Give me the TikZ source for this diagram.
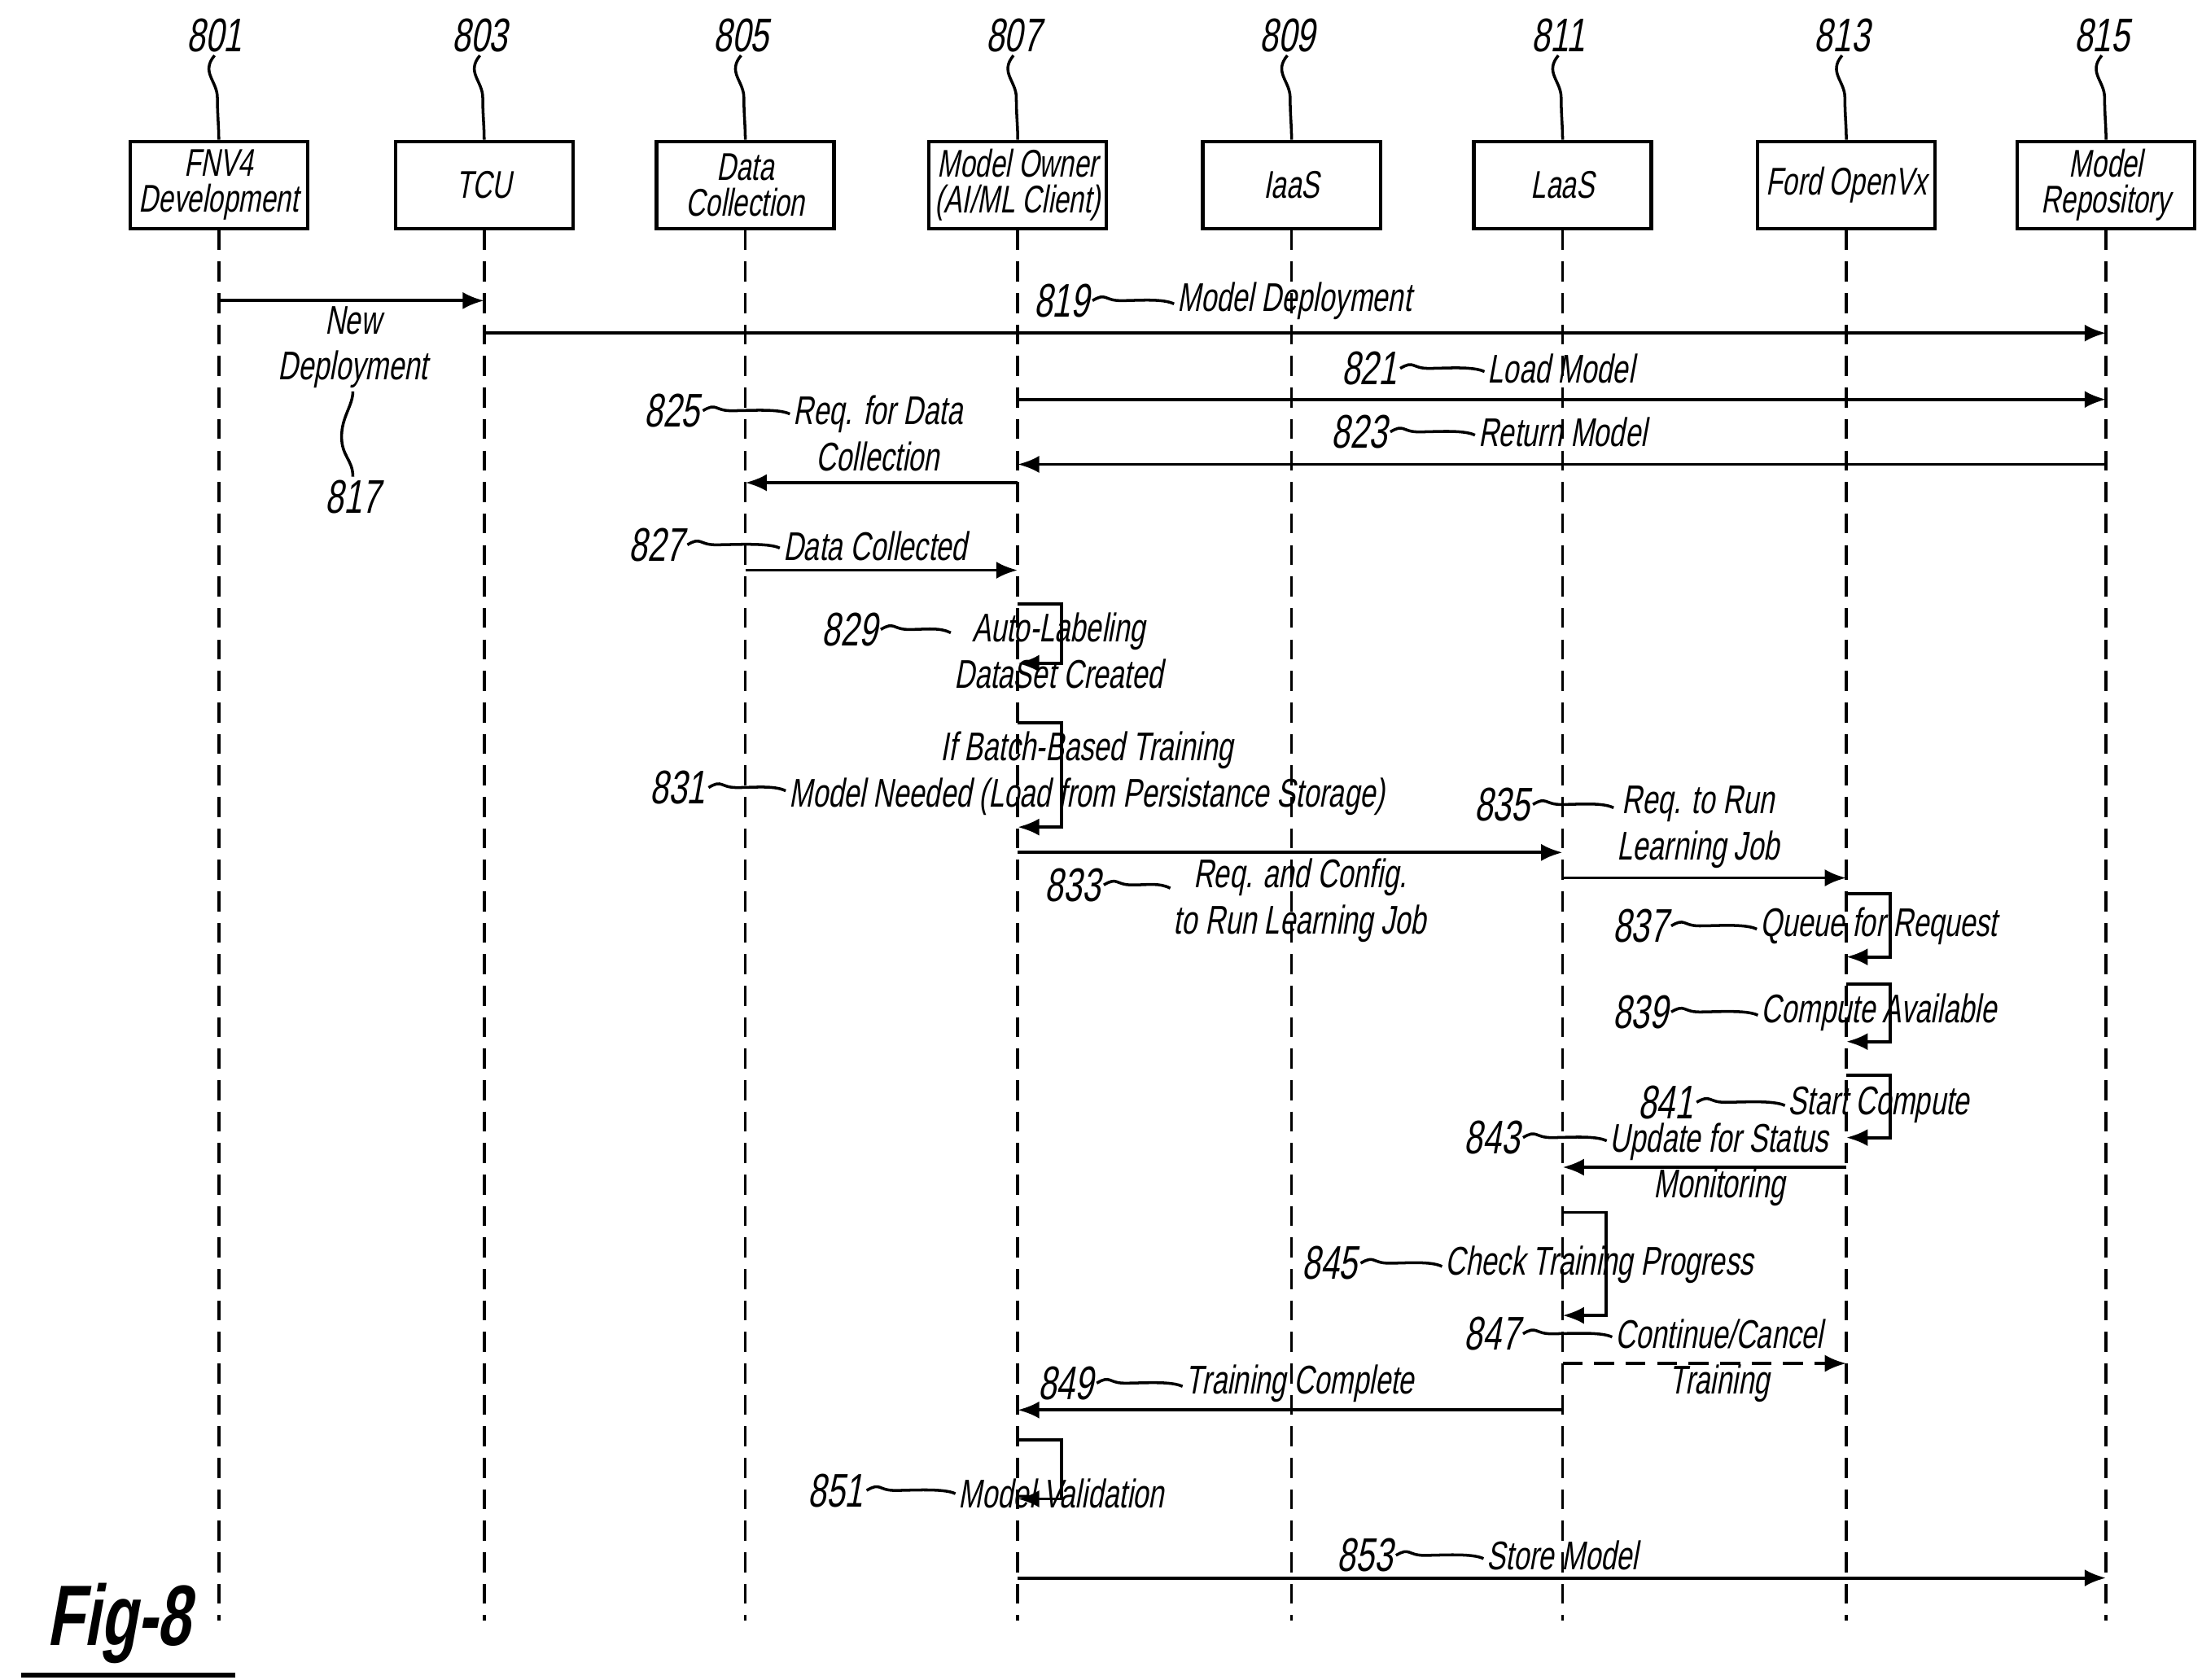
\documentclass[tikz,border=0pt]{standalone}
\usepackage{fontspec}
\setmainfont{Liberation Sans}[FakeStretch=0.7,FakeSlant=0.18]
\usetikzlibrary{arrows.meta}
\tikzset{
  box/.style = {draw, line width=1.2pt, minimum width=2.18cm, minimum height=1.07cm, inner sep=1pt, align=center, font=\fontsize{13.5}{12.5}\selectfont},
  lbl/.style = {font=\fontsize{14}{16}\selectfont, inner sep=1pt, align=center},
  num/.style = {font=\fontsize{16.5}{18}\selectfont, inner sep=1pt},
  life/.style = {line width=1pt, dash pattern=on 7pt off 4pt},
  msg/.style = {-{Latex[length=7.5pt,width=6pt]}, line width=1.1pt},
  lead/.style = {line width=1pt}
}
\begin{document}
\begin{tikzpicture}[x=0.01734cm, y=-0.01734cm]
\useasboundingbox (0,0) rectangle (1560,1190);
% lifelines with heads
\foreach \id/\xx/\txt in {801/155/{FNV4\\Development}, 803/343/TCU, 805/528/{Data\\Collection}, 807/721/{Model Owner\\(AI/ML Client)}, 809/915/IaaS, 811/1107/LaaS, 813/1308/Ford OpenVx, 815/1492/{Model\\Repository}}{
  \node[box] (b\id) at (\xx,131) {\txt};
  \node[num] (n\id) at (\xx-3,25) {\id};
  \draw[lead] (n\id.south) .. controls +(-10,12) and +(0,-12) .. ++(2,30) .. controls +(0,12) and +(0,-10) .. (b\id.north);
  \draw[life] (b\id.south) -- (\xx,1148);
}
% messages
\draw[msg] (b801 |- 0,213) -- (b803 |- 0,213);
\node[lbl] (t817) at (250,246) {New\\Deployment};
\node[num] (n817) at (250,352) {817};
\draw[lead] (t817.south) .. controls +(0,10) and +(0,-14) .. ++(-8,32) .. controls +(0,14) and +(0,-12) .. (n817.north);
\draw[msg] (b803 |- 0,236) -- (b815 |- 0,236);
\draw[msg] (b807 |- 0,283) -- (b815 |- 0,283);
\draw[msg] (b815 |- 0,329) -- (b807 |- 0,329);
\draw[msg] (b807 |- 0,342) -- (b805 |- 0,342);
\draw[msg] (b805 |- 0,404) -- (b807 |- 0,404);
\draw[msg] (b807 |- 0,604) -- (b811 |- 0,604);
\draw[msg] (b811 |- 0,622) -- (b813 |- 0,622);
\draw[msg] (b813 |- 0,827) -- (b811 |- 0,827);
\draw[msg, dash pattern=on 7pt off 4pt] (b811 |- 0,966) -- (b813 |- 0,966);
\draw[msg] (b811 |- 0,999) -- (b807 |- 0,999);
\draw[msg] (b807 |- 0,1118) -- (b815 |- 0,1118);
% self calls
\foreach \b/\ya/\yb in {b807/428/470, b807/512/586, b813/633/678, b813/697/738, b813/762/806, b811/859/932, b807/1020/1062}{
  \draw[msg] (\b |- 0,\ya) -- ++(31,0) |- (\b |- 0,\yb);
}
% labels with leaders
\foreach \n/\nx/\ny/\tx/\ty/\txt in {
  819/752/213/917/213/{Model Deployment},
  821/970/261/1106/261/{Load Model},
  823/963/306/1107/306/{Return Model},
  825/476/291/622/307/{Req. for Data\\Collection},
  827/465/386/620/387/{Data Collected},
  829/602/446/750/461/{Auto-Labeling\\DataSet Created},
  831/480/558/770/548/{If Batch-Based Training\\Model Needed (Load from Persistance Storage)},
  833/760/627/921/638/{Req. and Config.\\to Run Learning Job},
  835/1064/570/1203/586/{Req. to Run\\Learning Job},
  837/1162/656/1331/656/{Queue for Request},
  839/1162/717/1331/717/{Compute Available},
  841/1180/781/1331/783/{Start Compute},
  843/1057/806/1218/825/{Update for Status\\Monitoring},
  845/942/895/1133/896/{Check Training Progress},
  847/1057/945/1218/964/{Continue/Cancel\\Training},
  849/755/980/921/980/{Training Complete},
  851/592/1056/752/1058/{Model Validation},
  853/967/1102/1107/1102/{Store Model}}{
  \node[num] (n\n) at (\nx,\ny) {\n};
  \node[lbl] (t\n) at (\tx,\ty) {\txt};
  \draw[lead] (n\n.east) .. controls +(10,-6) and +(-12,0) .. ++(20,0) .. controls +(12,0) and +(-8,-4) .. ([yshift=-0.04cm]n\n.east -| t\n.west);
}
\node[font=\fontsize{30}{30}\selectfont\bfseries, inner sep=0pt] (fig) at (84,1150) {Fig-8};
\draw[line width=1.8pt] (fig.south west) ++(-18,8) -- ++(152,0);
\end{tikzpicture}
\end{document}
